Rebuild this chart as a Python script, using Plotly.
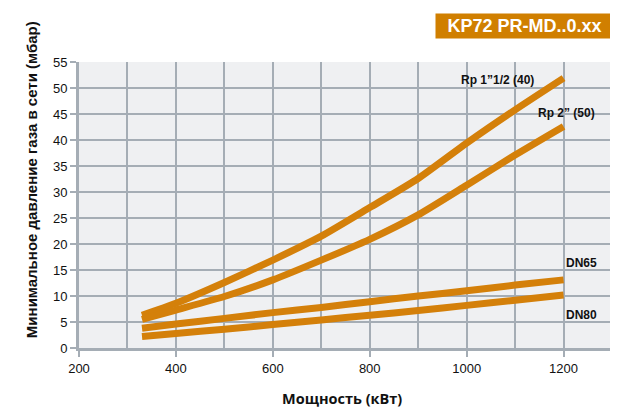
import plotly.graph_objects as go

power_kw = [330, 400, 500, 600, 700, 800, 900, 1000, 1100, 1200]
rp_40 = [6.3, 8.6, 12.6, 16.9, 21.5, 27.0, 32.6, 39.4, 45.8, 51.9]
rp_50 = [5.5, 7.3, 9.9, 13.1, 16.9, 20.9, 25.6, 31.3, 37.1, 42.6]
dn_65 = [3.8, 4.6, 5.7, 6.8, 7.8, 8.9, 10.0, 11.0, 12.1, 13.1]
dn_80 = [2.2, 2.8, 3.6, 4.5, 5.4, 6.3, 7.2, 8.2, 9.2, 10.2]

series_names = ["Rp 1”1/2 (40)", "Rp 2” (50)", "DN65", "DN80"]
series_values = [rp_40, rp_50, dn_65, dn_80]
label_pos = [(1063, 51.6), (1207, 45.2), (1238, 16.3), (1238, 6.4)]

x_ticks = [200, 400, 600, 800, 1000, 1200]
y_ticks = [0, 5, 10, 15, 20, 25, 30, 35, 40, 45, 50, 55]

ORANGE = "#d4800a"
GRID = "#a5adb5"

fig = go.Figure()
for name, vals in zip(series_names, series_values):
    fig.add_trace(go.Scatter(x=power_kw, y=vals, mode="lines", name=name,
                             line=dict(color=ORANGE, width=7, shape="spline", smoothing=0.6),
                             showlegend=False))

for name, (lx, ly) in zip(series_names, label_pos):
    fig.add_annotation(x=lx, y=ly, text="<b>%s</b>" % name, showarrow=False,
                       xanchor="center", yanchor="middle",
                       font=dict(family="Liberation Sans, Arial", size=12, color="#111"))

fig.add_annotation(xref="paper", yref="paper", x=0.836, y=1.126, text="<b>KP72 PR-MD..0.xx</b>",
                   xanchor="center", yanchor="middle",
                   showarrow=False, bgcolor="#d07f00", width=177, height=24, borderpad=0,
                   font=dict(family="Liberation Sans, Arial", size=18, color="white"))

fig.add_annotation(xref="paper", yref="paper", x=0.493, y=-0.175, text="<b>Мощность (кВт)</b>",
                   xanchor="center", yanchor="middle",
                   showarrow=False, font=dict(family="Open Sans", size=14.5, color="#111"))
fig.add_annotation(xref="paper", yref="paper", x=-0.090, y=0.587, textangle=-90,
                   xanchor="center", yanchor="middle",
                   text="<b>Минимальное давление газа в сети (мбар)</b>",
                   showarrow=False, font=dict(family="Liberation Sans, Arial", size=15, color="#111"))

fig.update_layout(
    width=610, height=404,
    margin=dict(l=71, r=6, t=54, b=64),
    paper_bgcolor="white", plot_bgcolor="#eff0f2",
    font=dict(family="Liberation Sans, Arial", size=13, color="#111"),
    xaxis=dict(range=[200, 1300], tickvals=x_ticks, automargin=False,
               showgrid=True, gridcolor=GRID, gridwidth=2,
               minor=dict(dtick=100, showgrid=True, gridcolor=GRID, gridwidth=2),
               ticks="outside", ticklen=6, tickwidth=2, tickcolor=GRID,
               showline=True, linecolor=GRID, linewidth=3, zeroline=False),
    yaxis=dict(range=[0, 55], tickvals=y_ticks, automargin=False,
               showgrid=True, gridcolor=GRID, gridwidth=2,
               ticks="outside", ticklen=6, tickwidth=2, tickcolor=GRID,
               showline=True, linecolor=GRID, linewidth=3, zeroline=False),
)

fig.write_html("out.html")
